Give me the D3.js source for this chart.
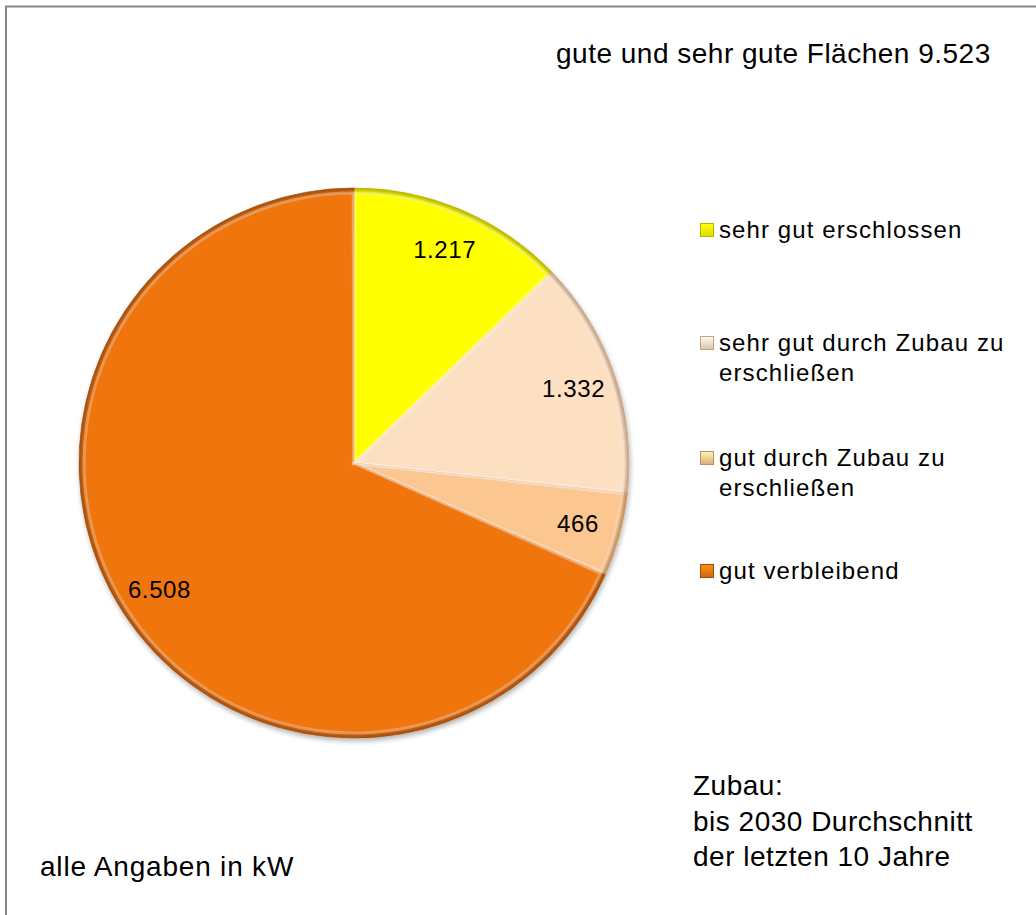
<!DOCTYPE html>
<html>
<head>
<meta charset="utf-8">
<script src="https://cdn.jsdelivr.net/npm/d3@7"></script>
<style>
  body { margin: 0; background: #fff; }
  text { font-family: "Liberation Sans", Arial, sans-serif; fill: #000; }
</style>
</head>
<body>
<div id="chart"></div>
<script>
// data
const categories = ['sehr gut erschlossen', 'sehr gut durch Zubau zu erschließen', 'gut durch Zubau zu erschließen', 'gut verbleibend'];
const legendLines = [['sehr gut erschlossen'], ['sehr gut durch Zubau zu', 'erschließen'], ['gut durch Zubau zu', 'erschließen'], ['gut verbleibend']];
const values = [1217, 1332, 466, 6508];
const valueLabels = ['1.217', '1.332', '466', '6.508'];
const colors = ['#ffff00', '#fde0c1', '#fbc690', '#f07511'];
const edgeColors = ['#b5b500', '#c4a283', '#c38f5c', '#a14c08'];

const W = 1036, H = 915;
const cx = 354, cy = 463, R = 275;

const svg = d3.select('#chart').append('svg')
  .attr('width', W)
  .attr('height', H);

// frame (right/bottom edges fall outside the picture)
svg.append('rect')
  .attr('x', 6).attr('y', 6.5)
  .attr('width', W + 10).attr('height', H + 10)
  .attr('fill', '#fff')
  .attr('stroke', '#868686')
  .attr('stroke-width', 2);

const defs = svg.append('defs');
let shadow = defs.append('filter').attr('id', 'shadow')
  .attr('x', '-10%').attr('y', '-10%').attr('width', '120%').attr('height', '120%');
shadow.append('feGaussianBlur').attr('in', 'SourceAlpha').attr('stdDeviation', 2.5);
shadow.append('feOffset').attr('dx', 1).attr('dy', 3).attr('result', 'b');
shadow.append('feComponentTransfer').append('feFuncA').attr('type', 'linear').attr('slope', 0.3);
let merge = shadow.append('feMerge');
merge.append('feMergeNode');
merge.append('feMergeNode').attr('in', 'SourceGraphic');

// rim shading gives the bevelled look
colors.forEach((col, i) => {
  let g = defs.append('radialGradient').attr('id', 'rim' + i)
    .attr('gradientUnits', 'userSpaceOnUse')
    .attr('cx', 0).attr('cy', 0).attr('r', R);
  g.append('stop').attr('offset', '0%').attr('stop-color', col);
  g.append('stop').attr('offset', '97.5%').attr('stop-color', col);
  g.append('stop').attr('offset', '100%').attr('stop-color', edgeColors[i]);

  let m = defs.append('linearGradient').attr('id', 'mk' + i)
    .attr('x1', 0).attr('y1', 0).attr('x2', 0).attr('y2', 1);
  m.append('stop').attr('offset', '0%').attr('stop-color', d3.color(col).brighter(0.6));
  m.append('stop').attr('offset', '100%').attr('stop-color', d3.color(col).darker(0.4));
});

const pie = d3.pie().sort(null).value(d => d)(values);
const arc = d3.arc().innerRadius(0).outerRadius(R);
const labelArc = d3.arc().innerRadius(232).outerRadius(232);

const g = svg.append('g').attr('transform', `translate(${cx},${cy})`);

g.append('g').attr('filter', 'url(#shadow)')
  .selectAll('path')
  .data(pie)
  .join('path')
    .attr('d', arc)
    .attr('fill', (d, i) => `url(#rim${i})`)
    .attr('stroke', (d, i) => edgeColors[i])
    .attr('stroke-opacity', 0.6)
    .attr('stroke-width', 1);

// light inner highlight along slice edges
g.selectAll('path.hl')
  .data(pie)
  .join('path')
    .attr('class', 'hl')
    .attr('d', d3.arc().innerRadius(0).outerRadius(R - 5).padAngle(0.006))
    .attr('fill', 'none')
    .attr('stroke', '#fff')
    .attr('stroke-opacity', 0.3)
    .attr('stroke-width', 3);

g.selectAll('text.val')
  .data(pie)
  .join('text')
    .attr('class', 'val')
    .attr('transform', d => `translate(${labelArc.centroid(d)})`)
    .attr('text-anchor', 'middle')
    .attr('dy', '0.36em')
    .attr('font-size', '24px')
    .attr('letter-spacing', '0.6px')
    .text((d, i) => valueLabels[i]);

// legend
const legendY = [230, 343, 458, 571];
const lg = svg.append('g');
legendLines.forEach((lines, i) => {
  lg.append('rect')
    .attr('x', 700.5).attr('y', legendY[i] - 6.5)
    .attr('width', 13).attr('height', 13)
    .attr('fill', `url(#mk${i})`)
    .attr('stroke', edgeColors[i])
    .attr('stroke-width', 1);
  let t = lg.append('text')
    .attr('x', 719).attr('y', legendY[i] + 8)
    .attr('font-size', '24px')
    .attr('letter-spacing', '1.1px');
  lines.forEach((ln, j) => {
    t.append('tspan').attr('x', 719).attr('dy', j ? 30 : 0).text(ln);
  });
});

svg.append('text')
  .attr('x', 556).attr('y', 63)
  .attr('font-size', '28px')
  .attr('letter-spacing', '0.5px')
  .text('gute und sehr gute Flächen 9.523');

const note = svg.append('text').attr('font-size', '28px').attr('letter-spacing', '0.5px');
['Zubau:', 'bis 2030 Durchschnitt', 'der letzten 10 Jahre'].forEach((ln, j) => {
  note.append('tspan').attr('x', 693).attr('y', 795 + j * 35.5).text(ln);
});

svg.append('text')
  .attr('x', 40).attr('y', 876)
  .attr('font-size', '28px')
  .attr('letter-spacing', '0.8px')
  .text('alle Angaben in kW');
</script>
</body>
</html>
